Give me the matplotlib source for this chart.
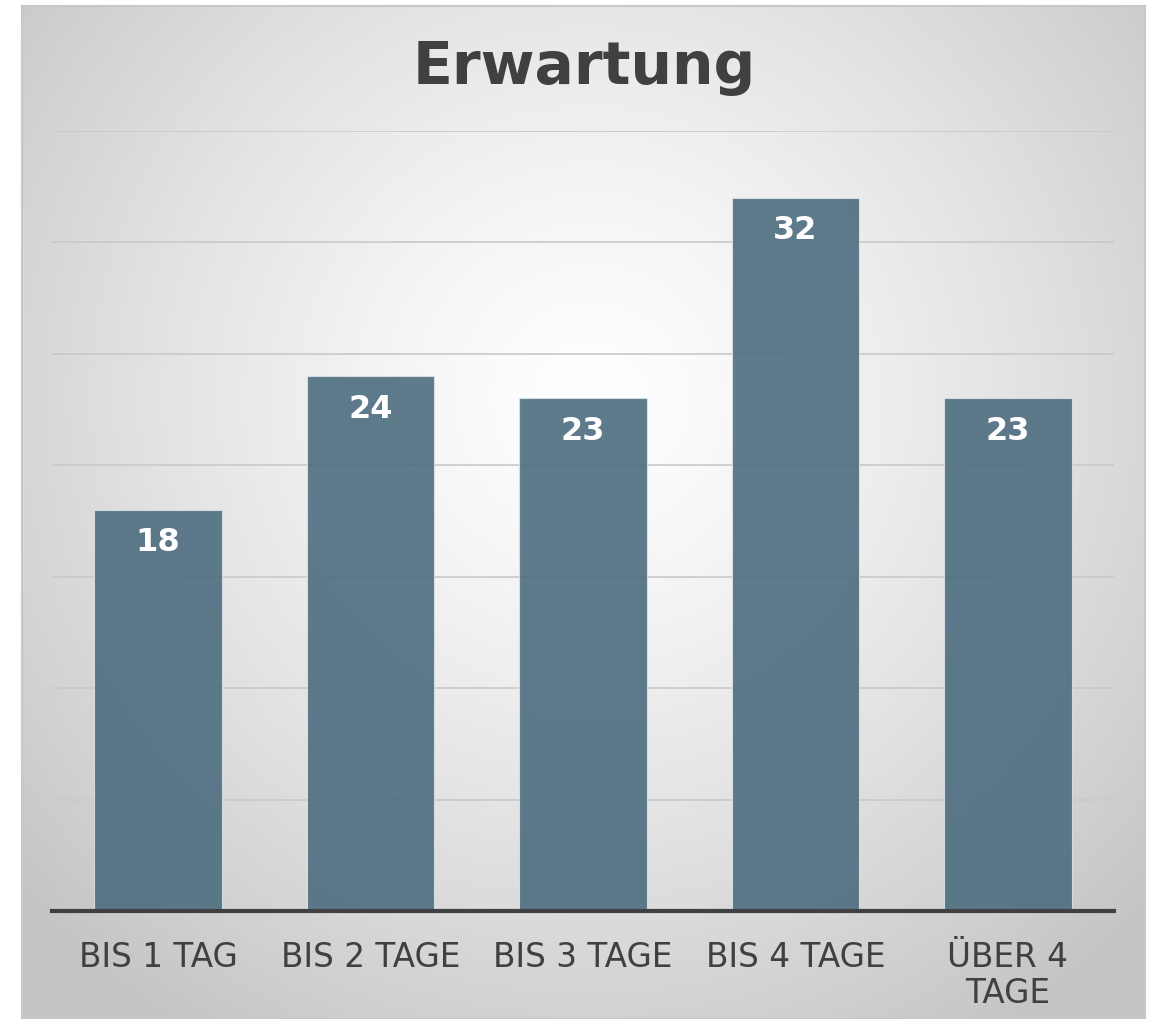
import numpy as np
import matplotlib
matplotlib.use("Agg")
import matplotlib.pyplot as plt

categories = ["BIS 1 TAG", "BIS 2 TAGE", "BIS 3 TAGE", "BIS 4 TAGE", "ÜBER 4\nTAGE"]
values = [18, 24, 23, 32, 23]
yticks = [0, 5, 10, 15, 20, 25, 30, 35]
title = "Erwartung"

W, H = 1152, 1020
fig = plt.figure(figsize=(W / 100, H / 100), dpi=100)
fig.patch.set_facecolor("white")

# background chart box with radial gradient
bx0, bx1, by0, by1 = 22, 1145, 7, 1020
bg = fig.add_axes([bx0 / W, 1 - by1 / H, (bx1 - bx0) / W, (by1 - by0) / H])
nx, ny = 400, 360
xs = np.linspace(bx0, bx1, nx)
ys = np.linspace(by0, by1, ny)
X, Y = np.meshgrid(xs, ys)
cx, cy = 590, 400
r = np.sqrt((X - cx) ** 2 + (Y - cy) ** 2) / 760
r = np.clip(r, 0, 1)
lum = 1.0 - (1.0 - 0.77) * r ** 1.3
img = np.dstack([lum, lum, lum])
bg.imshow(img, aspect="auto", extent=[0, 1, 0, 1], origin="upper", interpolation="bilinear")
bg.set_xlim(0, 1)
bg.set_ylim(0, 1)
bg.set_xticks([])
bg.set_yticks([])
for s in bg.spines.values():
    s.set_color("#c8c8c8")
    s.set_linewidth(1.5)

# plot axes
px0, px1, py_top, py_base = 52, 1114, 132, 912
ax = fig.add_axes([px0 / W, 1 - py_base / H, (px1 - px0) / W, (py_base - py_top) / H])
ax.patch.set_alpha(0)
x = np.arange(len(categories))
bars = ax.bar(x, values, width=0.6, color="#4d6d80", alpha=0.9,
              edgecolor="#d8e2e8", linewidth=0.8, zorder=3)
ax.set_xlim(-0.5, len(categories) - 0.5)
ax.set_ylim(0, 35)
ax.set_yticks(yticks)
ax.yaxis.grid(True, color="#c9c9c9", linewidth=1.2, zorder=0)
ax.tick_params(axis="y", length=0, labelleft=False)
ax.tick_params(axis="x", length=0, pad=21)
ax.set_xticks(x)
ax.set_xticklabels(categories, fontsize=23.5, color="#404040", linespacing=1.12,
                   family="DejaVu Sans")
for s in ["top", "right", "left"]:
    ax.spines[s].set_visible(False)
ax.spines["bottom"].set_color("#404040")
ax.spines["bottom"].set_linewidth(3)
ax.spines["bottom"].set_zorder(4)

for xi, v in zip(x, values):
    ax.annotate(str(v), (xi, v), xytext=(0, -23), textcoords="offset points",
                ha="center", va="center", color="white", fontsize=23,
                fontweight="bold", zorder=5)

fig.text(584 / W, 1 - 68 / H, title, ha="center", va="center", fontsize=42,
         fontweight="bold", color="#404040")

fig.savefig("out.png", dpi=100, facecolor="white")
